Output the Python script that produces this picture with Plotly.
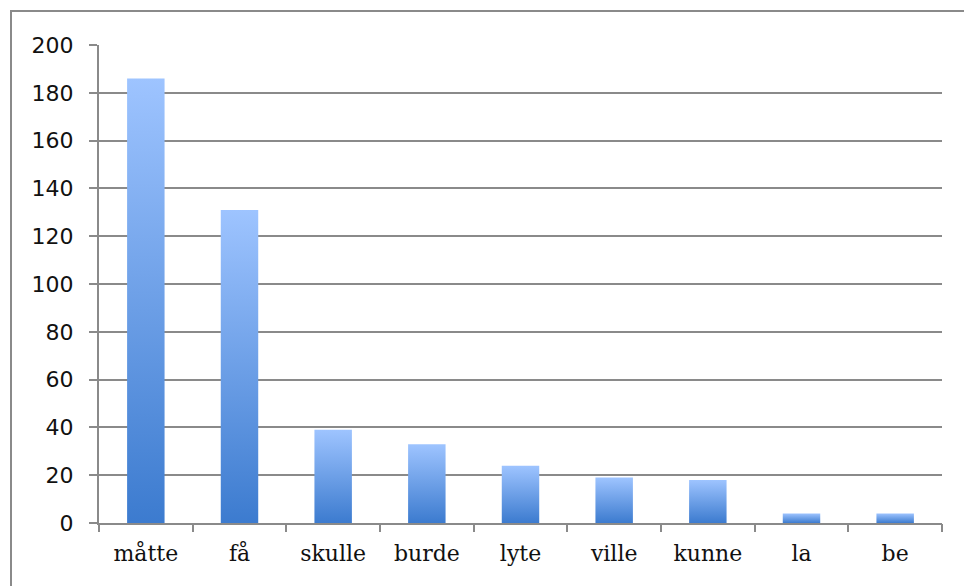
import plotly.graph_objects as go

categories = ["måtte", "få", "skulle", "burde", "lyte", "ville", "kunne", "la", "be"]
values = [186, 131, 39, 33, 24, 19, 18, 4, 4]
y_ticks = [0, 20, 40, 60, 80, 100, 120, 140, 160, 180, 200]

GRAY = "#8a8a8a"
HALF = 0.2

L, R, T, B = 99, 22, 45, 63
PW, PH = 964 - L - R, 586 - T - B

fig = go.Figure()
for i, (cat, v) in enumerate(zip(categories, values)):
    fig.add_trace(go.Scatter(
        x=[i - HALF, i - HALF, i + HALF, i + HALF, i - HALF],
        y=[0, v, v, 0, 0],
        mode="lines",
        line=dict(width=0),
        fill="toself",
        fillgradient=dict(type="vertical",
                          colorscale=[[0, "#3c7bcf"], [1, "#9ec4ff"]]),
        name=cat,
        hoverinfo="text",
        text=f"{cat}: {v}",
        showlegend=False,
    ))

n = len(categories)
# invisible trace on secondary x axis to show boundary ticks
fig.add_trace(go.Scatter(x=[-0.5, n - 0.5], y=[0, 0], xaxis="x2",
                         mode="markers", marker=dict(opacity=0), hoverinfo="skip",
                         showlegend=False))

fig.update_layout(
    width=964, height=586,
    margin=dict(l=L, r=R, t=T, b=B),
    paper_bgcolor="white", plot_bgcolor="white",
    xaxis=dict(range=[-0.5, n - 0.5], tickvals=list(range(n)), ticktext=categories,
               ticks="", showgrid=False, zeroline=False,
               showline=True, linecolor=GRAY, linewidth=2,
               tickfont=dict(family="DejaVu Serif", size=22, color="#111"),
               ticklabelstandoff=10),
    xaxis2=dict(range=[-0.5, n - 0.5], overlaying="x", side="bottom", anchor="y",
                tickvals=[k - 0.5 for k in range(n + 1)], showticklabels=False,
                ticks="outside", ticklen=8, tickwidth=2, tickcolor=GRAY,
                showgrid=False, zeroline=False, showline=False),
    yaxis=dict(range=[0, 200], tickvals=y_ticks, showgrid=True, gridcolor=GRAY, gridwidth=2,
               zeroline=False, showline=True, linecolor=GRAY, linewidth=2,
               ticks="outside", ticklen=8, tickwidth=2, tickcolor=GRAY,
               tickfont=dict(family="DejaVu Sans", size=22, color="#111"),
               ticklabelstandoff=11),
    shapes=[dict(type="rect", xref="paper", yref="paper",
                 x0=(11 - L) / PW, x1=(975 - L) / PW,
                 y0=-(600 - (T + PH)) / PH, y1=1 + (T - 11) / PH,
                 line=dict(color=GRAY, width=2), fillcolor="rgba(0,0,0,0)", layer="below")],
)

fig.write_html("out.html")
